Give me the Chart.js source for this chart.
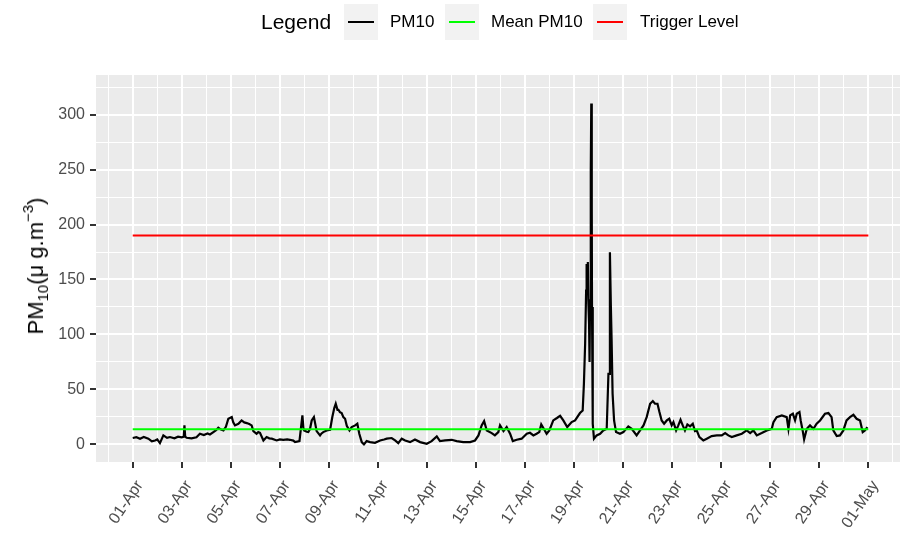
<!DOCTYPE html>
<html>
<head>
<meta charset="utf-8">
<script src="https://cdn.jsdelivr.net/npm/chart.js@4"></script>
<style>
  html, body { margin: 0; padding: 0; background: #fff; }
  #wrap { position: relative; width: 900px; height: 533px; font-family: "Liberation Sans", Arial, sans-serif; }
  #chart { position: absolute; left: 0; top: 0; }
  .lg-title { position: absolute; top: 4px; height: 36px; line-height: 36px; font-size: 21px; color: #000; }
  .lg-text { position: absolute; top: 4px; height: 36px; line-height: 36px; font-size: 17px; color: #000; }
  .lg-key { position: absolute; top: 4px; width: 34px; height: 36px; background: #F2F2F2; }
  .lg-key span { position: absolute; left: 4px; right: 4px; top: 17px; height: 2px; }
  #ytitle { position: absolute; left: 35px; top: 266px; transform: translate(-50%, -50%) rotate(-90deg);
            white-space: nowrap; font-size: 22px; color: #000; }
  #ytitle sub { font-size: 15px; vertical-align: -5px; }
  #ytitle sup { font-size: 15px; vertical-align: 10px; }
</style>
</head>
<body>
<div id="wrap">
  <canvas id="chart" width="900" height="533"></canvas>
  <div class="lg-title" style="left:261px">Legend</div>
  <div class="lg-key" style="left:344px"><span style="background:#000"></span></div>
  <div class="lg-text" style="left:390px">PM10</div>
  <div class="lg-key" style="left:445px"><span style="background:#00FF00"></span></div>
  <div class="lg-text" style="left:491px">Mean PM10</div>
  <div class="lg-key" style="left:593px"><span style="background:#FF0000"></span></div>
  <div class="lg-text" style="left:640px">Trigger Level</div>
  <div id="ytitle">PM<sub>10</sub>(μ g.m<sup>−3</sup>)</div>
</div>
<script>
// time in days since 01-Apr 00:00
const pm10Time = [
  0.00, 0.15, 0.30, 0.45, 0.64, 0.78, 0.91, 1.00, 1.11, 1.25,
  1.40, 1.52, 1.70, 1.85, 2.00, 2.08, 2.11, 2.14, 2.20, 2.40,
  2.60, 2.74, 2.90, 3.05, 3.15, 3.29, 3.40, 3.49, 3.60, 3.70,
  3.80, 3.90, 4.04, 4.10, 4.17, 4.31, 4.44, 4.55, 4.65, 4.75,
  4.85, 4.92, 5.05, 5.12, 5.19, 5.33, 5.46, 5.57, 5.67, 5.87,
  6.00, 6.14, 6.30, 6.41, 6.55, 6.62, 6.80, 6.85, 6.92, 6.96,
  6.99, 7.10, 7.16, 7.23, 7.30, 7.39, 7.45, 7.50, 7.64, 7.70,
  7.77, 7.91, 8.05, 8.14, 8.22, 8.28, 8.35, 8.39, 8.45, 8.52,
  8.59, 8.66, 8.73, 8.84, 8.93, 9.07, 9.16, 9.24, 9.34, 9.43,
  9.54, 9.68, 9.88, 10.09, 10.25, 10.36, 10.56, 10.70, 10.83, 10.97,
  11.11, 11.31, 11.51, 11.72, 11.99, 12.19, 12.40, 12.53, 12.74, 13.01,
  13.21, 13.48, 13.76, 13.96, 14.10, 14.23, 14.33, 14.44, 14.64, 14.77,
  14.91, 14.98, 15.12, 15.25, 15.39, 15.50, 15.66, 15.86, 16.07, 16.20,
  16.34, 16.47, 16.58, 16.66, 16.77, 16.88, 16.99, 17.15, 17.30, 17.43,
  17.56, 17.72, 17.90, 18.04, 18.24, 18.35, 18.40, 18.45, 18.49, 18.51,
  18.54, 18.56, 18.58, 18.61, 18.63, 18.65, 18.68, 18.70, 18.72, 18.73,
  18.76, 18.81, 18.92, 19.06, 19.19, 19.33, 19.40, 19.44, 19.46, 19.50,
  19.53, 19.57, 19.63, 19.71, 19.87, 20.01, 20.21, 20.35, 20.55, 20.69,
  20.83, 20.96, 21.10, 21.21, 21.30, 21.40, 21.48, 21.57, 21.67, 21.78,
  21.88, 21.98, 22.05, 22.16, 22.25, 22.34, 22.43, 22.52, 22.62, 22.73,
  22.84, 22.93, 23.00, 23.11, 23.27, 23.41, 23.61, 23.82, 24.02, 24.16,
  24.29, 24.43, 24.63, 24.84, 25.04, 25.18, 25.31, 25.45, 25.65, 25.86,
  26.06, 26.13, 26.26, 26.47, 26.67, 26.74, 26.81, 26.92, 27.01, 27.08,
  27.19, 27.24, 27.32, 27.38, 27.49, 27.62, 27.76, 27.89, 28.03, 28.23,
  28.37, 28.50, 28.57, 28.71, 28.84, 28.98, 29.11, 29.25, 29.39, 29.52,
  29.66, 29.77, 29.86, 29.96
];
const pm10Value = [
  5.8, 6.5, 5.2, 6.7, 5.2, 2.8, 3.6, 4.5, 1.2, 8.2,
  6.0, 6.7, 5.5, 7.0, 6.5, 7.0, 17.3, 7.0, 6.0, 5.5,
  6.5, 9.7, 8.5, 10.0, 9.0, 11.2, 13.0, 15.2, 13.5, 12.7,
  16.0, 23.3, 24.9, 20.0, 17.3, 18.8, 21.8, 20.0, 19.4, 18.5,
  17.3, 12.1, 9.7, 11.2, 10.5, 3.6, 6.7, 5.5, 5.2, 3.6,
  4.5, 4.2, 4.5, 4.2, 3.5, 2.1, 3.0, 12.7, 26.4, 15.0,
  12.7, 11.5, 11.2, 14.0, 21.8, 24.9, 18.0, 12.1, 8.2, 10.0,
  11.2, 12.7, 13.3, 24.9, 33.0, 37.0, 31.5, 31.5, 29.4, 28.5,
  24.8, 23.3, 17.0, 12.7, 15.8, 17.3, 18.8, 9.7, 2.1, 0.0,
  3.0, 2.1, 1.5, 3.6, 4.5, 5.2, 5.8, 3.6, 1.2, 5.2,
  3.6, 2.1, 4.5, 2.1, 0.6, 3.0, 7.3, 3.0, 3.6, 4.2,
  3.0, 2.1, 2.1, 3.6, 8.2, 17.3, 21.2, 12.7, 10.3, 8.2,
  11.2, 17.3, 12.1, 15.8, 9.7, 3.0, 4.2, 5.2, 9.7, 10.6,
  8.2, 9.7, 11.2, 18.2, 14.0, 9.7, 12.7, 21.8, 24.0, 26.0,
  21.8, 15.8, 20.3, 21.8, 28.5, 30.9, 55.2, 91.5, 140, 164,
  150, 166, 131, 110, 75, 131, 249, 310, 216, 125,
  18.8, 5.2, 8.2, 9.7, 12.7, 14.2, 64.2, 64.2, 174.8, 124.8,
  94.5, 46.0, 21.8, 11.2, 9.7, 11.2, 16.4, 14.2, 8.2, 12.7,
  17.3, 24.8, 36.9, 39.4, 37.0, 37.0, 29.4, 21.8, 18.8, 21.8,
  23.3, 17.3, 20.3, 12.7, 17.3, 22.4, 17.3, 12.7, 18.2, 16.4,
  18.8, 12.1, 12.7, 6.7, 3.6, 5.2, 7.6, 8.2, 8.2, 10.3,
  8.2, 6.7, 8.2, 9.7, 12.7, 10.3, 12.7, 8.2, 10.3, 12.7,
  14.2, 20.3, 24.8, 26.4, 24.8, 14.2, 26.4, 27.9, 21.8, 27.9,
  29.4, 21.8, 12.7, 4.5, 14.2, 17.3, 14.2, 18.8, 21.8, 27.9,
  28.5, 24.8, 12.7, 7.6, 8.2, 12.7, 21.8, 24.8, 26.9, 23.3,
  21.8, 11.2, 12.7, 15.8
];
const refSpan = [0, 30];          // first and last day of the record
const meanPM10 = [13.8, 13.8];
const triggerLevel = [190, 190];
const xTickLabels = ['01-Apr', '03-Apr', '05-Apr', '07-Apr', '09-Apr', '11-Apr', '13-Apr', '15-Apr',
  '17-Apr', '19-Apr', '21-Apr', '23-Apr', '25-Apr', '27-Apr', '29-Apr', '01-May'];
const yTickLabels = [0, 50, 100, 150, 200, 250, 300];

const AXIS_FONT = { family: '"Liberation Sans", Arial, sans-serif', size: 16 };

// grey panel like ggplot
const panelBg = {
  id: 'panelBg',
  beforeDraw(chart) {
    const a = chart.chartArea, c = chart.ctx;
    c.save();
    c.fillStyle = '#EBEBEB';
    c.fillRect(a.left, a.top, a.right - a.left, a.bottom - a.top);
    c.restore();
  }
};

const isMajorDay = v => v >= 0 && v <= 30 && v % 2 === 0;
const isMajorY = v => yTickLabels.includes(v);

new Chart(document.getElementById('chart').getContext('2d'), {
  type: 'line',
  data: {
    datasets: [
      {
        label: 'Trigger Level',
        data: refSpan.map((d, i) => ({ x: d, y: triggerLevel[i] })),
        borderColor: '#FF0000', borderWidth: 2, pointRadius: 0, order: 1
      },
      {
        label: 'Mean PM10',
        data: refSpan.map((d, i) => ({ x: d, y: meanPM10[i] })),
        borderColor: '#00FF00', borderWidth: 2, pointRadius: 0, order: 2
      },
      {
        label: 'PM10',
        data: pm10Time.map((d, i) => ({ x: d, y: pm10Value[i] })),
        borderColor: '#000000', borderWidth: 2.2, pointRadius: 0, tension: 0, order: 3
      }
    ]
  },
  options: {
    responsive: false,
    animation: false,
    devicePixelRatio: 1,
    layout: { padding: { top: 75, right: 0, bottom: 0, left: 0 } },
    plugins: { legend: { display: false }, tooltip: { enabled: false } },
    scales: {
      x: {
        type: 'linear',
        min: -1.497,
        max: 31.29,
        afterBuildTicks: s => {
          const t = [];
          for (let d = -1; d <= 31; d++) t.push({ value: d });
          s.ticks = t;
        },
        afterFit: s => { s.height = 71; s.paddingLeft = 0; s.paddingRight = 0; },
        border: { display: false },
        grid: {
          color: '#FFFFFF',
          lineWidth: ctx => (ctx.tick && isMajorDay(ctx.tick.value)) ? 2 : 1,
          drawTicks: true,
          tickLength: 6,
          tickWidth: 2,
          tickColor: ctx => (ctx.tick && isMajorDay(ctx.tick.value)) ? '#333333' : 'rgba(0,0,0,0)'
        },
        ticks: {
          autoSkip: false,
          minRotation: 56,
          maxRotation: 56,
          padding: 9,
          labelOffset: 7,
          color: '#4D4D4D',
          font: AXIS_FONT,
          callback: v => isMajorDay(v) ? xTickLabels[v / 2] : ''
        }
      },
      y: {
        type: 'linear',
        min: -16,
        max: 336,
        afterBuildTicks: s => {
          const t = [];
          for (let v = 0; v <= 325; v += 25) t.push({ value: v });
          s.ticks = t;
        },
        afterFit: s => { s.width = 96; s.paddingTop = 0; s.paddingBottom = 0; },
        border: { display: false },
        grid: {
          color: '#FFFFFF',
          lineWidth: ctx => (ctx.tick && isMajorY(ctx.tick.value)) ? 2 : 1,
          drawTicks: true,
          tickLength: 6,
          tickWidth: 2,
          tickColor: ctx => (ctx.tick && isMajorY(ctx.tick.value)) ? '#333333' : 'rgba(0,0,0,0)'
        },
        ticks: {
          autoSkip: false,
          padding: 5,
          color: '#4D4D4D',
          font: AXIS_FONT,
          callback: v => isMajorY(v) ? String(v) : ''
        }
      }
    }
  },
  plugins: [panelBg]
});
</script>
</body>
</html>
